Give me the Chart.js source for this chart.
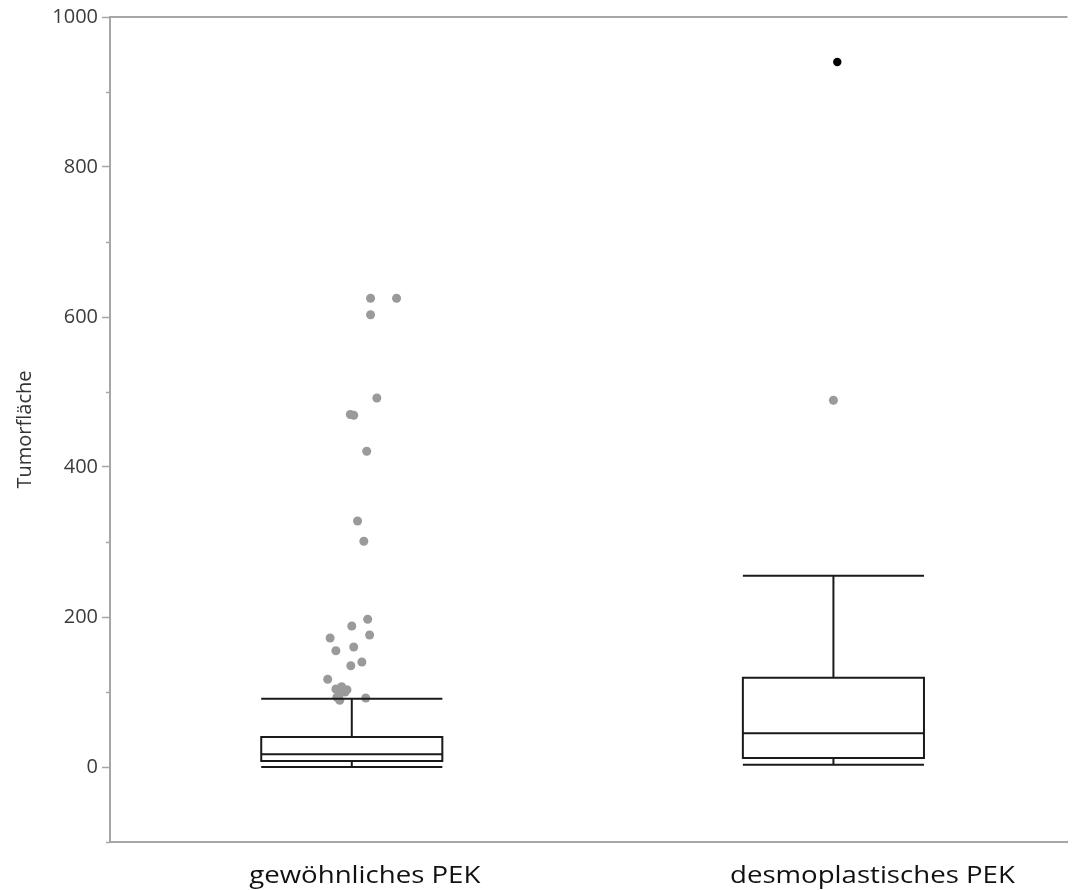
<!DOCTYPE html>
<html>
<head>
<meta charset="utf-8">
<script src="https://cdn.jsdelivr.net/npm/chart.js@4.4.1/dist/chart.umd.min.js"></script>
<style>
  html, body { margin: 0; padding: 0; background: #ffffff; }
  #wrap { width: 1072px; height: 890px; }
</style>
</head>
<body>
<div id="wrap"><canvas id="myChart" width="1072" height="890"></canvas></div>
<script>
// Box plot summary per group
const categories = ["gewöhnliches PEK", "desmoplastisches PEK"];
const whiskerLow = [0, 3];
const q1 = [8, 12];
const median = [17, 45];
const q3 = [40, 119];
const whiskerHigh = [91, 255];

// Outliers: value and horizontal jitter (in category units)
const outlierValuesGew = [625, 625, 603, 492, 470, 469, 421, 328, 301, 197, 188, 172, 176, 155, 160, 140, 135, 117,
    104, 107, 99, 93, 100, 103, 89, 92];
const outlierJitterGew = [0.039, 0.093, 0.039, 0.052, -0.003, 0.004, 0.031, 0.012, 0.025, 0.033, 0.0, -0.045, 0.037, -0.033, 0.004, 0.021, -0.002, -0.05,
    -0.033, -0.021, -0.023, -0.031, -0.014, -0.01, -0.025, 0.029];
const outlierValuesDes = [489];
const outlierJitterDes = [0.0];
const extremeValuesDes = [940];
const extremeJitterDes = [0.008];

const yTicks = [0, 200, 400, 600, 800, 1000];

function toPoints(groupIndex, values, jitter) {
    let pts = [];
    for (let i = 0; i < values.length; i++) {
        pts.push({x: groupIndex + 1 + jitter[i], y: values[i]});
    }
    return pts;
}

const BOX_HALF = 0.188;
const labelShift = [13, 39];

const boxPlugin = {
    id: "boxes",
    afterDraw(chart) {
        const ctx = chart.ctx;
        const xs = chart.scales.x;
        const ys = chart.scales.y;
        const area = chart.chartArea;

        ctx.save();
        // frame line along the top
        ctx.strokeStyle = "#a6a6a6";
        ctx.lineWidth = 2;
        ctx.beginPath();
        ctx.moveTo(area.left, area.top);
        ctx.lineTo(area.right, area.top);
        ctx.stroke();

        // minor ticks at the odd hundreds
        ctx.lineWidth = 1.5;
        for (let v = -100; v <= 900; v += 200) {
            const y = Math.round(ys.getPixelForValue(v)) + 0.5;
            ctx.beginPath();
            ctx.moveTo(area.left - 4, y);
            ctx.lineTo(area.left, y);
            ctx.stroke();
        }

        // boxes and whiskers
        ctx.strokeStyle = "#1a1a1a";
        ctx.lineWidth = 2;
        for (let i = 0; i < categories.length; i++) {
            const c = xs.getPixelForValue(i + 1);
            const l = xs.getPixelForValue(i + 1 - BOX_HALF);
            const r = xs.getPixelForValue(i + 1 + BOX_HALF);
            const yLo = ys.getPixelForValue(whiskerLow[i]);
            const yQ1 = ys.getPixelForValue(q1[i]);
            const yMed = ys.getPixelForValue(median[i]);
            const yQ3 = ys.getPixelForValue(q3[i]);
            const yHi = ys.getPixelForValue(whiskerHigh[i]);

            ctx.strokeRect(l, yQ3, r - l, yQ1 - yQ3);
            ctx.beginPath();
            ctx.moveTo(l, yMed); ctx.lineTo(r, yMed);
            ctx.moveTo(l, yHi); ctx.lineTo(r, yHi);
            ctx.moveTo(l, yLo); ctx.lineTo(r, yLo);
            ctx.moveTo(c, yHi); ctx.lineTo(c, yQ3);
            ctx.moveTo(c, yQ1); ctx.lineTo(c, yLo);
            ctx.stroke();
        }

        // group labels under the axis, drawn slightly widened
        ctx.fillStyle = "#111111";
        ctx.font = "23px 'Open Sans'";
        ctx.textAlign = "center";
        ctx.textBaseline = "alphabetic";
        for (let i = 0; i < categories.length; i++) {
            const cx = xs.getPixelForValue(i + 1) + labelShift[i];
            ctx.save();
            ctx.translate(cx, 883);
            ctx.scale(1.2, 1);
            ctx.fillText(categories[i], 0, 0);
            ctx.restore();
        }
        ctx.restore();
    }
};

new Chart("myChart", {
    type: "scatter",
    data: {
        datasets: [{
            data: toPoints(0, outlierValuesGew, outlierJitterGew).concat(toPoints(1, outlierValuesDes, outlierJitterDes)),
            backgroundColor: "#9a9a9a",
            borderWidth: 0,
            pointRadius: 4.5
        }, {
            data: toPoints(1, extremeValuesDes, extremeJitterDes),
            backgroundColor: "#000000",
            borderWidth: 0,
            pointRadius: 4.2
        }]
    },
    options: {
        responsive: false,
        animation: false,
        layout: {padding: {top: 17, right: 0, left: 0, bottom: 0}},
        plugins: {
            legend: {display: false},
            tooltip: {enabled: false}
        },
        scales: {
            x: {
                type: "linear",
                min: 0.498,
                max: 2.486,
                ticks: {display: false},
                grid: {display: false, drawTicks: false},
                border: {display: true, color: "#a6a6a6", width: 2},
                afterFit(scale) { scale.height = 48; }
            },
            y: {
                min: -100,
                max: 1000,
                afterBuildTicks(scale) {
                    scale.ticks = yTicks.map(v => ({value: v}));
                },
                ticks: {
                    color: "#3c3c3c",
                    font: {family: "'Open Sans'", size: 20},
                    padding: 4,
                    callback: (v) => String(v)
                },
                grid: {drawOnChartArea: false, drawTicks: true, tickLength: 8, tickColor: "#a6a6a6", tickWidth: 1.5},
                border: {display: true, color: "#a6a6a6", width: 2},
                title: {
                    display: true,
                    text: "Tumorfläche",
                    color: "#333333",
                    font: {family: "'Open Sans'", size: 20},
                    padding: {top: 13, bottom: 0}
                },
                afterFit(scale) { scale.width = 110; }
            }
        }
    },
    plugins: [boxPlugin]
});
</script>
</body>
</html>
